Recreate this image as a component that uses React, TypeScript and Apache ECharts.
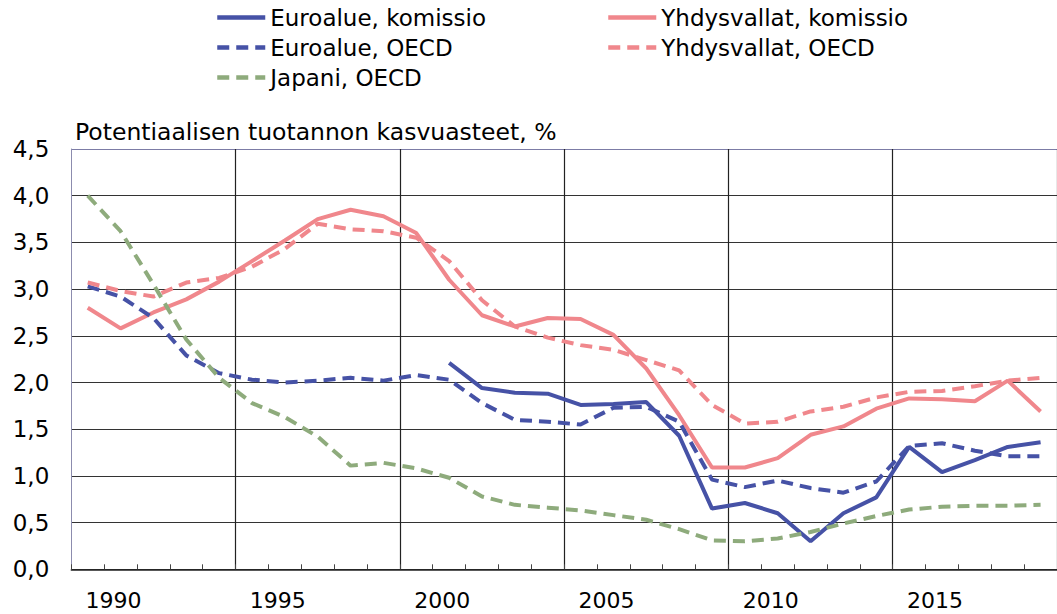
import React, { useEffect, useRef } from "react";
import * as echarts from "echarts";

const years = [
  "1989", "1990", "1991", "1992", "1993", "1994", "1995", "1996", "1997", "1998",
  "1999", "2000", "2001", "2002", "2003", "2004", "2005", "2006", "2007", "2008",
  "2009", "2010", "2011", "2012", "2013", "2014", "2015", "2016", "2017", "2018",
];

const euroKomissio = [
  null, null, null, null, null, null, null, null, null, null,
  null, 2.21, 1.94, 1.89, 1.88, 1.76, 1.77, 1.79, 1.43, 0.65,
  0.71, 0.6, 0.3, 0.6, 0.77, 1.31, 1.04, 1.17, 1.31, 1.36,
];

const usKomissio = [
  2.8, 2.58, 2.75, 2.89, 3.08, 3.3, 3.52, 3.75, 3.85, 3.78,
  3.6, 3.1, 2.72, 2.6, 2.69, 2.68, 2.51, 2.15, 1.65, 1.09,
  1.09, 1.19, 1.44, 1.53, 1.72, 1.83, 1.82, 1.8, 2.02, 1.69,
];

const euroOecd = [
  3.03, 2.92, 2.69, 2.29, 2.1, 2.03, 2.0, 2.02, 2.05, 2.02,
  2.08, 2.03, 1.78, 1.6, 1.58, 1.55, 1.73, 1.74, 1.58, 0.96,
  0.88, 0.95, 0.87, 0.82, 0.94, 1.32, 1.35, 1.27, 1.21, 1.21,
];

const usOecd = [
  3.07, 2.98, 2.92, 3.07, 3.12, 3.24, 3.43, 3.7, 3.64, 3.62,
  3.55, 3.3, 2.88, 2.6, 2.48, 2.4, 2.35, 2.24, 2.13, 1.76,
  1.56, 1.58, 1.69, 1.74, 1.84, 1.9, 1.91, 1.96, 2.02, 2.05,
];

const japaniOecd = [
  4.0, 3.62, 3.05, 2.46, 2.05, 1.78, 1.63, 1.42, 1.11, 1.14,
  1.08, 0.98, 0.78, 0.69, 0.66, 0.63, 0.58, 0.53, 0.43, 0.31,
  0.3, 0.33, 0.4, 0.49, 0.57, 0.64, 0.67, 0.68, 0.68, 0.69,
];

const seriesNames = [
  "Euroalue, komissio",
  "Yhdysvallat, komissio",
  "Euroalue, OECD",
  "Yhdysvallat, OECD",
  "Japani, OECD",
];

const titleText = "Potentiaalisen tuotannon kasvuasteet, %";

const FONT = "DejaVu Sans";
const BLUE = "#4652a6";
const PINK = "#f0878c";
const GREEN = "#8eab7c";
const DASH = [12, 7];

export default function App() {
  const ref = useRef<HTMLDivElement>(null);

  useEffect(() => {
    if (!ref.current) return;
    const chart = echarts.init(ref.current, null, { renderer: "svg" });

    const mk = (name: string, data: (number | null)[], color: string, dashed: boolean) => ({
      name,
      type: "line",
      data,
      symbol: "none",
      showSymbol: false,
      connectNulls: false,
      lineStyle: { color, width: 4, type: dashed ? DASH : "solid" },
      itemStyle: { color },
    });

    const splitColors = ["#333", "#333", "#333", "#333", "#333", "#333", "#333", "#333", "#333", "#7c7ca6"];

    const legendBase = {
      orient: "vertical",
      top: 6,
      padding: 0,
      itemWidth: 48,
      itemHeight: 14,
      itemGap: 7,
      itemStyle: { color: "rgba(0,0,0,0)", borderWidth: 0, opacity: 0 },
      lineStyle: { width: 4.5 },
      textStyle: { fontFamily: FONT, fontSize: 23, color: "#000", lineHeight: 23 },
    };

    chart.setOption({
      animation: false,
      backgroundColor: "#fff",
      textStyle: { fontFamily: FONT },
      title: {
        text: titleText,
        left: 75,
        top: 120,
        padding: 0,
        textStyle: { fontFamily: FONT, fontSize: 23.5, fontWeight: "normal", color: "#000" },
      },
      legend: [
        { ...legendBase, left: 215, data: [seriesNames[0], seriesNames[2], seriesNames[4]] },
        { ...legendBase, left: 606, data: [seriesNames[1], seriesNames[3]] },
      ],
      grid: { left: 71.3, top: 149, bottom: 44.7, right: -5.8, containLabel: false },
      xAxis: {
        type: "category",
        data: years,
        boundaryGap: true,
        axisLine: { show: true, lineStyle: { color: "#222", width: 1.5 } },
        axisTick: { show: true, interval: 0, inside: true, length: 5, lineStyle: { color: "#444", width: 1 } },
        axisLabel: {
          interval: (_i: number, v: string) => Number(v) % 5 === 0,
          fontFamily: FONT,
          fontSize: 22,
          color: "#000",
          margin: 20,
          padding: [0, 14, 0, 0],
        },
        splitLine: {
          show: true,
          interval: (i: number) => i % 5 === 0 && i > 0,
          lineStyle: { color: "#222", width: 1.2 },
        },
      },
      yAxis: {
        type: "value",
        min: 0,
        max: 4.5,
        interval: 0.5,
        axisLine: { show: true, lineStyle: { color: "#8c8cae", width: 1 } },
        axisTick: { show: false },
        axisLabel: {
          fontFamily: FONT,
          fontSize: 23,
          color: "#000",
          margin: 22,
          formatter: (v: number) => v.toFixed(1).replace(".", ","),
        },
        splitLine: { show: true, lineStyle: { color: splitColors, width: 1.2 } },
      },
      series: [
        mk(seriesNames[0], euroKomissio, BLUE, false),
        mk(seriesNames[1], usKomissio, PINK, false),
        mk(seriesNames[2], euroOecd, BLUE, true),
        mk(seriesNames[3], usOecd, PINK, true),
        mk(seriesNames[4], japaniOecd, GREEN, true),
      ],
    });

    return () => chart.dispose();
  }, []);

  return (
    <div
      ref={ref}
      style={{ position: "absolute", left: 0, top: 0, width: 1057, height: 614, background: "#fff" }}
    />
  );
}
